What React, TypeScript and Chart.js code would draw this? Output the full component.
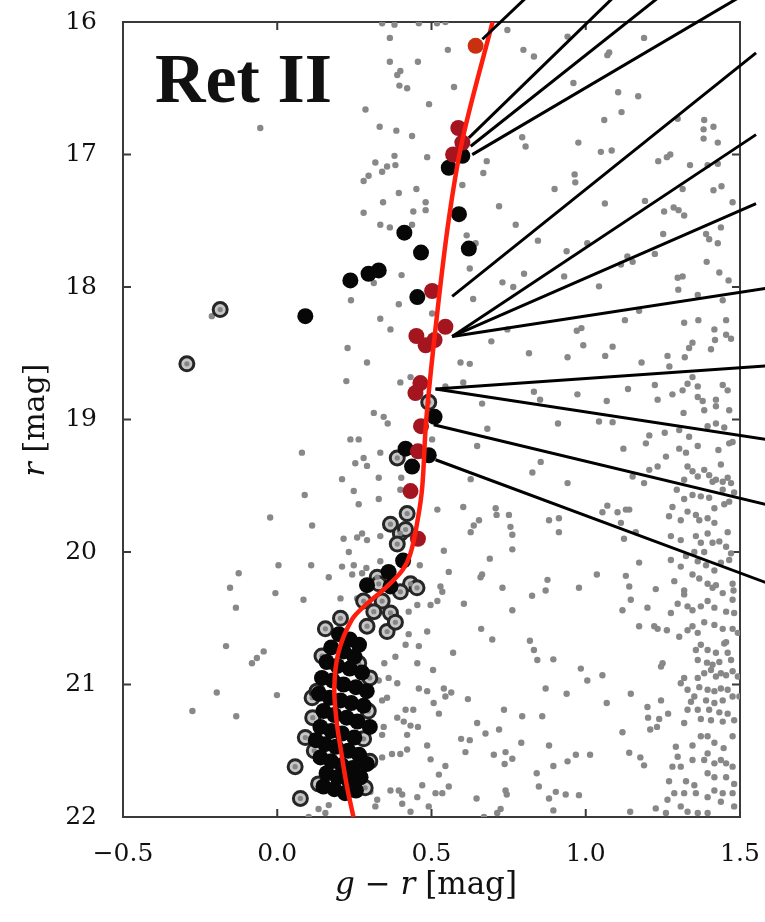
import { useEffect, useRef } from 'react';
import { Chart, registerables } from 'chart.js';

Chart.register(...registerables);

// Axis ticks
const X_TICKS = [-0.5, 0.0, 0.5, 1.0, 1.5];
const Y_TICKS = [16, 17, 18, 19, 20, 21, 22];

// Field stars [g - r, r]
const fieldStars: [number, number][] = [
  [-0.055, 16.8], [-0.212, 18.22],
  // upper middle
  [0.34, 16.01], [0.38, 16.02], [0.459, 16.01], [0.518, 16.01], [0.545, 16.0], [0.365, 16.12], [0.553, 16.21],
  [0.365, 16.3], [0.456, 16.3], [0.399, 16.37], [0.389, 16.4], [0.396, 16.48], [0.421, 16.5], [0.573, 16.49],
  [0.286, 16.66], [0.492, 16.62], [0.332, 16.79], [0.386, 16.82], [0.437, 16.86], [0.38, 17.01], [0.486, 17.02],
  [0.318, 17.06], [0.356, 17.09], [0.383, 17.08], [0.34, 17.13], [0.296, 17.16], [0.28, 17.2], [0.394, 17.29],
  [0.451, 17.26], [0.343, 17.36], [0.481, 17.36], [0.28, 17.44], [0.441, 17.43], [0.481, 17.42], [0.679, 17.05],
  [0.668, 17.14], [0.6, 17.23], [0.719, 17.39], [0.746, 16.06], [0.798, 16.21], [0.832, 16.26], [0.794, 16.87],
  [0.805, 16.94],
  // upper right
  [0.941, 16.11], [1.189, 16.12], [1.076, 16.23], [1.07, 16.25], [0.96, 16.46], [1.105, 16.53], [1.17, 16.56],
  [1.116, 16.68], [1.06, 16.74], [1.298, 16.73], [1.384, 16.74], [1.414, 16.79], [1.382, 16.81], [1.382, 16.88],
  [1.428, 16.91], [0.976, 16.91], [1.049, 16.98], [1.084, 16.97], [1.235, 17.05], [1.263, 17.02], [1.274, 17.0],
  [1.338, 17.08], [1.395, 17.08], [1.428, 17.07], [0.964, 17.15], [0.966, 17.21], [0.899, 17.26], [1.314, 17.26],
  [1.414, 17.27], [1.44, 17.24], [1.062, 17.37], [1.192, 17.35], [1.254, 17.43], [1.285, 17.4], [1.301, 17.42],
  [1.319, 17.46], [1.476, 17.36],
  // middle band
  [0.334, 17.53], [0.365, 17.55], [0.437, 17.53], [0.614, 17.61], [0.773, 17.53], [0.845, 17.65], [0.643, 17.67],
  [0.403, 17.91], [0.313, 17.97], [0.624, 17.86], [0.73, 17.965], [0.765, 18.0], [0.8, 17.9], [0.239, 18.1],
  [0.394, 18.13], [0.635, 18.09], [0.502, 18.2], [0.334, 18.24], [0.367, 18.32], [0.228, 18.46], [0.291, 18.57],
  [0.594, 18.57], [0.624, 18.58], [0.694, 18.41], [0.816, 18.5], [0.746, 18.32], [0.224, 18.71], [0.399, 18.72],
  [0.432, 18.68], [0.545, 18.75], [0.603, 18.72], [0.664, 18.88], [0.832, 18.79], [0.852, 18.85], [0.313, 18.95],
  [0.345, 18.98],
  [0.938, 17.73], [1.005, 17.67], [0.93, 17.92], [1.043, 17.995], [1.135, 17.77], [1.114, 17.83], [1.152, 17.81],
  [1.224, 17.75], [1.251, 17.6], [1.39, 17.6], [1.4, 17.64], [1.428, 17.67], [1.438, 17.55], [1.392, 17.81],
  [1.433, 17.89], [1.463, 17.95], [1.298, 17.93], [1.314, 17.92], [1.3, 18.02], [1.363, 18.06], [1.444, 18.1],
  [1.173, 18.18], [1.127, 18.25], [0.971, 18.33], [0.986, 18.31], [0.992, 18.44], [1.087, 18.45], [0.941, 18.53],
  [1.063, 18.52], [1.181, 18.57], [1.265, 18.52], [1.271, 18.6], [1.321, 18.53], [1.319, 18.27], [1.365, 18.25],
  [1.455, 18.25], [1.417, 18.32], [1.419, 18.4], [1.455, 18.36], [1.471, 18.39], [1.346, 18.42], [1.335, 18.46],
  [1.406, 18.47], [1.346, 18.68], [1.33, 18.73], [1.363, 18.75], [1.314, 18.78], [1.281, 18.81], [1.224, 18.74],
  [1.233, 18.85], [1.137, 18.77], [1.068, 18.86], [0.973, 18.81], [1.363, 18.83], [1.379, 18.86], [1.384, 18.93],
  [1.422, 18.85], [1.422, 18.9], [1.444, 18.74], [1.46, 18.78], [1.465, 18.93], [1.317, 18.95],
  // left side, faint
  [0.08, 19.25], [0.089, 19.57], [-0.023, 19.74], [0.113, 19.8], [0.004, 20.1], [0.11, 20.1], [-0.125, 20.16],
  [-0.153, 20.27], [-0.006, 20.31], [0.085, 20.36], [-0.134, 20.42], [0.167, 20.19],
  [-0.166, 20.71], [-0.044, 20.75], [-0.066, 20.8], [-0.082, 20.84], [-0.196, 21.06], [-0.275, 21.2],
  [-0.133, 21.24], [-0.001, 21.08], [0.134, 21.94], [0.156, 21.97], [0.102, 22.0], [0.167, 21.91],
  // lower middle
  [0.358, 19.03], [0.237, 19.15], [0.264, 19.15], [0.334, 19.25], [0.253, 19.33], [0.28, 19.29], [0.291, 19.35],
  [0.21, 19.45], [0.329, 19.44], [0.402, 19.44], [0.248, 19.54], [0.329, 19.6], [0.264, 19.64], [0.399, 19.53],
  [0.502, 19.15], [0.681, 19.07], [0.648, 19.2], [0.827, 19.4], [0.627, 19.45], [0.519, 19.68], [0.603, 19.66],
  [0.708, 19.67], [0.751, 19.72], [0.711, 19.72], [0.637, 19.8], [0.654, 19.76], [0.756, 19.81], [0.627, 19.85],
  [0.762, 19.87], [0.215, 19.9], [0.259, 19.89], [0.291, 19.91], [0.275, 19.86], [0.334, 19.88], [0.232, 20.0],
  [0.21, 20.11], [0.248, 20.1], [0.289, 20.12], [0.334, 20.07], [0.243, 20.17], [0.275, 20.16],
  [0.54, 19.99], [0.462, 20.1], [0.556, 20.15], [0.689, 20.05], [0.664, 20.17], [0.659, 20.19], [0.762, 19.98],
  [0.73, 20.27], [0.826, 20.33], [0.762, 20.44], [0.605, 20.39], [0.529, 20.26], [0.535, 20.3], [0.519, 20.37],
  [0.497, 20.4], [0.454, 20.4], [0.426, 20.45], [0.205, 20.35], [0.259, 20.35],
  // lower right, dense strip
  [0.91, 19.03], [1.043, 19.015], [1.087, 19.02], [1.206, 19.12], [1.256, 19.1], [1.303, 19.08], [1.335, 19.13],
  [1.363, 19.2], [1.395, 19.05], [1.422, 19.03], [1.449, 19.06], [1.465, 19.18], [1.476, 19.17], [1.122, 19.22],
  [1.195, 19.18], [1.26, 19.28], [1.303, 19.22], [1.325, 19.25], [1.43, 19.23], [1.438, 19.34], [0.854, 19.32],
  [0.941, 19.48], [1.152, 19.43], [1.189, 19.48], [1.206, 19.38], [1.233, 19.355], [1.295, 19.53], [1.319, 19.455],
  [1.33, 19.355], [1.346, 19.39], [1.363, 19.43], [1.384, 19.38], [1.4, 19.42], [1.411, 19.47], [1.422, 19.455],
  [1.444, 19.47], [1.46, 19.44], [1.471, 19.48], [1.481, 19.55], [1.444, 19.53], [1.346, 19.57], [1.373, 19.58],
  [1.4, 19.59], [1.319, 19.6], [1.281, 19.66], [1.417, 19.67], [1.449, 19.64], [1.465, 19.62], [1.054, 19.7],
  [1.07, 19.65], [1.103, 19.7], [1.13, 19.68], [1.141, 19.68], [0.881, 19.76], [0.913, 19.745], [0.913, 19.85],
  [1.114, 19.78], [1.124, 19.9], [1.162, 19.85], [1.27, 19.73], [1.308, 19.76], [1.33, 19.695], [1.357, 19.72],
  [1.368, 19.76], [1.395, 19.745], [1.417, 19.78], [1.276, 19.88], [1.308, 19.91], [1.357, 19.88], [1.373, 19.93],
  [1.395, 19.86], [1.411, 19.93], [1.433, 19.92], [1.455, 19.96], [1.471, 20.01], [1.46, 19.85], [1.352, 20.0],
  [1.384, 20.0], [1.325, 20.03], [1.308, 20.11], [1.276, 20.06], [1.363, 20.07], [1.39, 20.1], [1.417, 20.14],
  [1.438, 20.08], [1.465, 20.06], [1.346, 20.17], [1.368, 20.2], [1.395, 20.24], [1.411, 20.27], [1.422, 20.25],
  [1.444, 20.31], [1.476, 20.24], [1.479, 20.29], [1.319, 20.29], [1.287, 20.22], [1.173, 20.08], [1.036, 20.17],
  [1.13, 20.18], [1.141, 20.26], [1.227, 20.28], [0.876, 20.21], [0.87, 20.29], [0.978, 20.27], [1.146, 20.36],
  [1.119, 20.44], [1.2, 20.42], [1.276, 20.46], [1.298, 20.39], [1.319, 20.32], [1.33, 20.41], [1.346, 20.44],
  [1.373, 20.41], [1.395, 20.37], [1.417, 20.42], [1.455, 20.45], [1.476, 20.36], [1.481, 20.46],
  // bottom middle
  [0.486, 20.6], [0.661, 20.58], [0.697, 20.66], [0.819, 20.67], [0.832, 20.74], [0.843, 20.815], [0.57, 20.76],
  [0.459, 20.71], [0.416, 20.7], [0.426, 20.62], [0.383, 20.79], [0.347, 20.84], [0.454, 20.84], [0.505, 20.89],
  [0.329, 20.97], [0.361, 20.95], [0.389, 20.99], [0.459, 21.03], [0.486, 21.05], [0.54, 21.03], [0.545, 21.09],
  [0.564, 21.06], [0.618, 21.11], [0.507, 21.14], [0.34, 21.12], [0.356, 21.1], [0.416, 21.19], [0.441, 21.19],
  [0.524, 21.22], [0.389, 21.25], [0.345, 21.32], [0.41, 21.28], [0.432, 21.31], [0.456, 21.32], [0.421, 21.38],
  [0.34, 21.38], [0.648, 21.29], [0.675, 21.37], [0.719, 21.34], [0.735, 21.19], [0.794, 21.24], [0.596, 21.41],
  [0.624, 21.42], [0.61, 21.51], [0.486, 21.46], [0.421, 21.49], [0.372, 21.525], [0.34, 21.55], [0.399, 21.525],
  [0.497, 21.565], [0.545, 21.615], [0.524, 21.68], [0.702, 21.53], [0.74, 21.51], [0.762, 21.56], [0.737, 21.6],
  [0.791, 21.44], [0.841, 21.67], [0.848, 21.77], [0.556, 21.77], [0.47, 21.76], [0.367, 21.8], [0.394, 21.8],
  [0.405, 21.83], [0.454, 21.85], [0.513, 21.82], [0.535, 21.82], [0.405, 21.9], [0.324, 21.87], [0.302, 21.81],
  [0.318, 21.92], [0.491, 21.92], [0.646, 21.86], [0.74, 21.8], [0.744, 21.83], [0.724, 21.94], [0.713, 21.97],
  [0.67, 22.0], [0.432, 21.96],
  // bottom right
  [1.173, 20.56], [1.222, 20.56], [1.233, 20.58], [1.263, 20.59], [1.303, 20.64], [1.33, 20.59], [1.346, 20.56],
  [1.363, 20.61], [1.384, 20.53], [1.417, 20.55], [1.444, 20.58], [1.476, 20.58], [1.493, 20.61], [1.455, 20.68],
  [1.449, 20.69], [1.373, 20.7], [1.357, 20.74], [1.395, 20.74], [1.422, 20.76], [1.46, 20.76], [1.363, 20.815],
  [1.393, 20.835], [1.411, 20.85], [1.433, 20.83], [1.471, 20.815], [1.406, 20.89], [1.422, 20.94], [1.438, 20.915],
  [1.455, 20.93], [1.476, 20.9], [1.493, 20.94], [1.384, 20.915], [1.363, 20.95], [1.319, 20.95], [1.308, 20.99],
  [1.33, 21.04], [1.352, 21.09], [1.368, 21.02], [1.395, 21.04], [1.417, 21.05], [1.438, 21.03], [1.46, 21.04],
  [1.39, 21.12], [1.417, 21.14], [1.444, 21.12], [1.476, 21.09], [1.498, 21.09], [1.4, 21.19], [1.363, 21.19],
  [1.33, 21.19], [1.341, 21.13], [1.433, 21.21], [1.46, 21.22], [1.481, 21.27], [1.373, 21.26], [1.406, 21.27],
  [1.444, 21.28], [1.319, 21.29], [1.244, 21.12], [1.267, 21.22], [1.238, 21.26], [1.2, 21.17], [1.202, 21.25],
  [1.209, 21.34], [1.231, 21.32], [1.146, 21.07], [1.068, 21.14], [1.119, 21.36], [1.249, 20.84], [1.244, 20.865],
  [1.395, 21.39], [1.373, 21.39], [1.346, 21.46], [1.417, 21.44], [1.447, 21.48], [1.476, 21.39], [1.292, 21.47],
  [1.298, 21.545], [1.281, 21.62], [1.308, 21.62], [1.346, 21.57], [1.395, 21.52], [1.384, 21.57], [1.417, 21.595],
  [1.438, 21.57], [1.455, 21.595], [1.476, 21.62], [1.395, 21.67], [1.417, 21.7], [1.455, 21.7], [1.481, 21.75],
  [1.325, 21.73], [1.352, 21.76], [1.27, 21.73], [1.287, 21.82], [1.265, 21.87], [1.319, 21.82], [1.357, 21.82],
  [1.395, 21.85], [1.417, 21.8], [1.444, 21.82], [1.476, 21.82], [1.438, 21.885], [1.481, 21.92], [1.227, 21.935],
  [1.26, 21.97], [1.308, 21.92], [1.33, 21.96], [1.363, 21.97], [1.395, 21.97], [1.141, 21.515], [1.177, 21.55],
  [1.189, 21.61], [1.144, 21.96], [0.984, 20.88], [1.005, 20.97], [1.054, 20.93], [0.895, 20.81], [0.87, 21.03],
  [0.938, 21.07], [0.859, 21.24], [0.881, 21.46], [0.968, 21.53], [1.014, 21.53], [0.941, 21.58], [0.895, 21.615],
  [0.903, 21.81], [0.935, 21.83], [0.978, 21.835], [0.881, 21.86], [0.895, 21.95],
];

// Member candidates, filled black [g - r, r]
const blackMembers: [number, number][] = [
  [0.6, 17.01], [0.556, 17.1], [0.589, 17.45], [0.412, 17.59], [0.466, 17.74], [0.621, 17.71], [0.237, 17.95],
  [0.296, 17.9], [0.329, 17.875], [0.454, 18.076], [0.51, 18.98], [0.091, 18.22], [0.416, 19.22], [0.491, 19.27],
  [0.437, 19.355], [0.408, 20.065], [0.361, 20.15], [0.291, 20.25], [0.367, 20.26],
  [0.2, 20.62], [0.235, 20.66], [0.265, 20.7], [0.175, 20.72], [0.215, 20.75], [0.25, 20.79], [0.16, 20.83],
  [0.195, 20.86], [0.235, 20.88], [0.275, 20.91], [0.145, 20.95], [0.18, 20.97], [0.215, 21.0], [0.255, 21.02],
  [0.135, 21.07], [0.17, 21.1], [0.205, 21.12], [0.24, 21.14], [0.28, 21.16], [0.15, 21.2], [0.185, 21.23],
  [0.225, 21.25], [0.26, 21.28], [0.14, 21.32], [0.175, 21.35], [0.21, 21.37], [0.25, 21.4], [0.155, 21.45],
  [0.19, 21.47], [0.23, 21.5], [0.265, 21.53], [0.14, 21.55], [0.175, 21.58], [0.21, 21.61], [0.245, 21.63],
  [0.16, 21.67], [0.195, 21.7], [0.23, 21.72], [0.27, 21.7], [0.15, 21.77], [0.185, 21.79], [0.22, 21.82],
  [0.255, 21.8], [0.29, 21.05], [0.3, 21.32], [0.125, 21.42], [0.29, 21.6],
];

// Member candidates, open rings [g - r, r]
const ringMembers: [number, number][] = [
  [-0.185, 18.17], [-0.293, 18.58], [0.491, 18.87], [0.389, 19.29], [0.421, 19.71], [0.367, 19.79], [0.399, 19.86],
  [0.389, 19.94], [0.416, 19.83], [0.324, 20.19], [0.329, 20.24], [0.432, 20.24], [0.453, 20.27], [0.399, 20.3],
  [0.28, 20.37], [0.34, 20.37], [0.313, 20.45], [0.367, 20.46], [0.205, 20.5],
  [0.156, 20.58], [0.145, 20.785], [0.113, 21.1], [0.129, 21.05], [0.091, 21.4], [0.058, 21.62], [0.075, 21.86],
  [0.134, 21.75], [0.264, 20.84], [0.28, 21.41], [0.259, 21.67], [0.356, 20.6], [0.291, 20.56], [0.383, 20.53],
  [0.3, 20.95], [0.295, 21.2], [0.3, 21.58], [0.285, 21.78], [0.12, 21.5], [0.115, 21.25],
];

// Spectroscopic targets [g - r, r]
const redMembers: [number, number][] = [
  [0.587, 16.8], [0.6, 16.91], [0.57, 17.0], [0.502, 18.03], [0.545, 18.3], [0.451, 18.37], [0.481, 18.44],
  [0.51, 18.4], [0.464, 18.725], [0.448, 18.8], [0.466, 19.05], [0.456, 19.24], [0.432, 19.54], [0.456, 19.9],
];
const brightMember: [number, number][] = [[0.643, 16.18]];

// Isochrone [g - r, r]
const isochrone: [number, number][] = [
  [0.247, 22.0], [0.226, 21.77], [0.208, 21.52], [0.192, 21.27], [0.185, 21.02], [0.198, 20.76], [0.242, 20.51],
  [0.291, 20.39], [0.351, 20.27], [0.405, 20.14], [0.432, 20.01], [0.455, 19.76], [0.47, 19.51], [0.483, 19.0],
  [0.516, 18.25], [0.556, 17.49], [0.6, 16.89], [0.698, 16.0],
];

// Pointer lines to the spectra panel: start and end [g - r, r]
const pointerFrom: [number, number][] = [
  [0.665, 16.13], [0.621, 16.875], [0.627, 16.938], [0.632, 17.001], [0.567, 18.071], [0.567, 18.373],
  [0.567, 18.373], [0.567, 18.373], [0.513, 18.77], [0.513, 18.77], [0.507, 19.04], [0.513, 19.304],
];
const pointerTo: [number, number][] = [
  [0.805, 15.82], [1.087, 15.82], [1.233, 15.82], [1.493, 15.82], [1.552, 16.233], [1.552, 16.85],
  [1.552, 17.37], [1.59, 18.008], [1.59, 18.594], [1.59, 19.153], [1.59, 19.644], [1.59, 20.236],
];

const SERIF = "'DejaVu Serif', 'Liberation Serif', serif";
const TITLE_SERIF = "'Liberation Serif', 'DejaVu Serif', serif";

const toXY = (arr: [number, number][]) => arr.map(([x, y]) => ({ x, y }));
const fmtX = (v: number) => v.toFixed(1).replace('-', '\u2212');

function drawRuns(ctx: CanvasRenderingContext2D, runs: [string, string][], cx: number, cy: number) {
  let total = 0;
  const widths = runs.map(([t, f]) => {
    ctx.font = f;
    const w = ctx.measureText(t).width;
    total += w;
    return w;
  });
  let x = cx - total / 2;
  ctx.textBaseline = 'alphabetic';
  ctx.textAlign = 'left';
  runs.forEach(([t, f], i) => {
    ctx.font = f;
    ctx.fillText(t, x, cy);
    x += widths[i];
  });
}

const framePlugin = {
  id: 'frame',
  beforeDatasetsDraw(chart: any) {
    const { ctx, chartArea: a, scales } = chart;
    ctx.save();
    ctx.strokeStyle = '#3a3a3a';
    ctx.lineWidth = 2;
    ctx.strokeRect(a.left, a.top, a.right - a.left, a.bottom - a.top);
    const len = 8;
    ctx.beginPath();
    X_TICKS.forEach((v) => {
      const px = scales.x.getPixelForValue(v);
      ctx.moveTo(px, a.bottom);
      ctx.lineTo(px, a.bottom - len);
      ctx.moveTo(px, a.top);
      ctx.lineTo(px, a.top + len);
    });
    Y_TICKS.forEach((v) => {
      const py = scales.y.getPixelForValue(v);
      ctx.moveTo(a.left, py);
      ctx.lineTo(a.left + len, py);
      ctx.moveTo(a.right, py);
      ctx.lineTo(a.right - len, py);
    });
    ctx.stroke();
    ctx.restore();
  },
  afterDraw(chart: any) {
    const { ctx } = chart;
    ctx.save();
    ctx.fillStyle = '#111';
    // panel label
    ctx.font = `bold 70px ${TITLE_SERIF}`;
    ctx.textAlign = 'left';
    ctx.textBaseline = 'alphabetic';
    ctx.fillText('Ret II', 155, 102);
    // x axis title
    drawRuns(ctx, [
      ['g', `italic 31px ${SERIF}`],
      [' \u2212 ', `31px ${SERIF}`],
      ['r', `italic 31px ${SERIF}`],
      [' [mag]', `31px ${SERIF}`],
    ], 426, 894);
    // y axis title
    ctx.translate(44, 420);
    ctx.rotate(-Math.PI / 2);
    drawRuns(ctx, [
      ['r', `italic 30px ${SERIF}`],
      [' [mag]', `30px ${SERIF}`],
    ], 0, 0);
    ctx.restore();
  },
};

export default function App() {
  const ref = useRef<HTMLCanvasElement | null>(null);

  useEffect(() => {
    if (!ref.current) return;
    const pointerSets = pointerFrom.map((p, i) => ({
      type: 'scatter' as const,
      data: toXY([p, pointerTo[i]]),
      showLine: true,
      borderColor: '#000',
      borderWidth: 3,
      pointRadius: 0,
      clip: false as const,
      order: 0,
    }));
    const chart = new Chart(ref.current, {
      type: 'scatter',
      data: {
        datasets: [
          ...pointerSets,
          {
            data: toXY(isochrone),
            showLine: true,
            borderColor: '#ff1e0e',
            borderWidth: 4.5,
            tension: 0.35,
            pointRadius: 0,
            order: 1,
          },
          {
            data: toXY(brightMember),
            pointRadius: 8,
            pointBackgroundColor: '#c8300f',
            pointBorderWidth: 0,
            order: 2,
          },
          {
            data: toXY(redMembers),
            pointRadius: 8,
            pointBackgroundColor: '#a5151f',
            pointBorderWidth: 0,
            order: 2,
          },
          {
            data: toXY(blackMembers),
            pointRadius: 8,
            pointBackgroundColor: '#070707',
            pointBorderWidth: 0,
            order: 3,
          },
          {
            data: toXY(ringMembers),
            pointRadius: 2.6,
            pointBackgroundColor: '#858585',
            pointBorderWidth: 0,
            order: 4,
          },
          {
            data: toXY(ringMembers),
            pointRadius: 7,
            pointBackgroundColor: '#c6c6c6',
            pointBorderColor: '#262626',
            pointBorderWidth: 3,
            order: 5,
          },
          {
            data: toXY(fieldStars),
            pointRadius: 3.2,
            pointBackgroundColor: '#888888',
            pointBorderWidth: 0,
            order: 6,
          },
        ],
      },
      options: {
        responsive: false,
        animation: false,
        devicePixelRatio: 1,
        events: [],
        layout: { padding: { top: 22, right: 25, left: 0, bottom: 0 } },
        plugins: { legend: { display: false }, tooltip: { enabled: false } },
        scales: {
          x: {
            type: 'linear',
            min: -0.5,
            max: 1.5,
            grid: { display: false },
            border: { display: false },
            afterBuildTicks: (s: any) => {
              s.ticks = X_TICKS.map((v) => ({ value: v }));
            },
            afterFit: (s: any) => {
              s.height = 105;
              s.paddingLeft = 0;
              s.paddingRight = 0;
            },
            ticks: {
              callback: (v: any) => fmtX(Number(v)),
              font: { family: SERIF, size: 25 },
              color: '#111',
              padding: 14,
              maxRotation: 0,
              autoSkip: false,
            },
          },
          y: {
            type: 'linear',
            reverse: true,
            min: 16,
            max: 22,
            grid: { display: false },
            border: { display: false },
            afterBuildTicks: (s: any) => {
              s.ticks = Y_TICKS.map((v) => ({ value: v }));
            },
            afterFit: (s: any) => {
              s.width = 123;
              s.paddingTop = 0;
              s.paddingBottom = 0;
            },
            ticks: {
              callback: (v: any) => String(v),
              font: { family: SERIF, size: 25 },
              color: '#111',
              padding: 18,
              autoSkip: false,
            },
          },
        },
      },
      plugins: [framePlugin],
    });
    return () => chart.destroy();
  }, []);

  return (
    <div style={{ position: 'absolute', left: 0, top: 0, width: 765, height: 922, background: '#fff' }}>
      <canvas ref={ref} width={765} height={922} style={{ display: 'block' }} />
    </div>
  );
}
